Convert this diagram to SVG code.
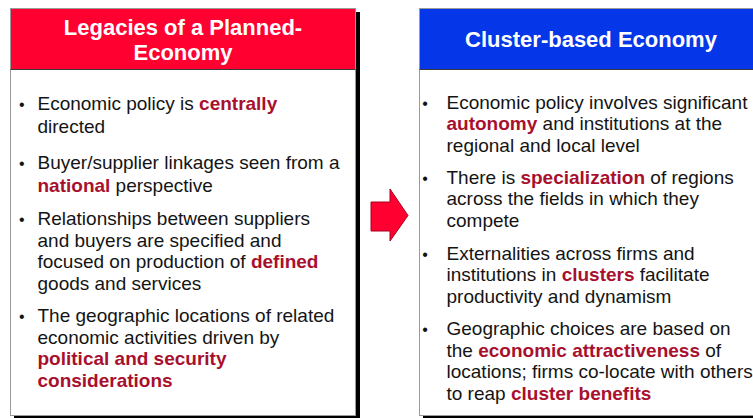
<svg xmlns="http://www.w3.org/2000/svg" width="753" height="418" viewBox="0 0 753 418">
  <style>
    .panel { fill: #ffffff; stroke: #9a9a9a; stroke-width: 1; }
    .shadow { fill: #000000; }
    .hdr-line { stroke: #3a3a3a; stroke-width: 1; }
    .title { font-family: "Liberation Sans", Arial, sans-serif; font-weight: bold; font-size: 22px; fill: #ffffff; text-anchor: middle; }
    .body { font-family: "Liberation Sans", Arial, sans-serif; font-size: 19px; fill: #141414; }
    .em { font-weight: bold; fill: #a8102e; }
    .bullet { font-family: "Liberation Sans", Arial, sans-serif; font-size: 16px; fill: #141414; text-anchor: middle; }
  </style>
  <rect x="0" y="0" width="753" height="418" fill="#ffffff"/>

  <g id="legacies-planned-economy">
    <rect class="shadow" x="14" y="12" width="346" height="408"/>
    <rect class="panel" x="10.5" y="8.5" width="345" height="407"/>
    <rect x="11" y="9" width="344" height="60" fill="#ff0030"/>
    <line class="hdr-line" x1="10.5" y1="69.5" x2="355.5" y2="69.5"/>
    <text class="title" x="183" y="34.5">Legacies of a Planned-</text>
    <text class="title" x="183" y="60">Economy</text>
    <g class="bullet">
      <text x="21.7" y="110">•</text>
      <text x="21.7" y="169">•</text>
      <text x="21.7" y="224.5">•</text>
      <text x="21.7" y="322">•</text>
    </g>
    <g class="body">
      <text x="37.5" y="110">Economic policy is <tspan class="em">centrally</tspan></text>
      <text x="37.5" y="133">directed</text>
      <text x="37.5" y="169">Buyer/supplier linkages seen from a</text>
      <text x="37.5" y="191.5"><tspan class="em">national</tspan> perspective</text>
      <text x="37.5" y="224.5">Relationships between suppliers</text>
      <text x="37.5" y="246.5">and buyers are specified and</text>
      <text x="37.5" y="268">focused on production of <tspan class="em">defined</tspan></text>
      <text x="37.5" y="289.5">goods and services</text>
      <text x="37.5" y="322">The geographic locations of related</text>
      <text x="37.5" y="343.5">economic activities driven by</text>
      <text x="37.5" y="365"><tspan class="em">political and security</tspan></text>
      <text x="37.5" y="386.5"><tspan class="em">considerations</tspan></text>
    </g>
  </g>

  <g id="cluster-based-economy">
    <rect class="shadow" x="423" y="12" width="346" height="408"/>
    <rect class="panel" x="419.5" y="8.5" width="345" height="407"/>
    <rect x="420" y="9" width="344" height="60" fill="#0536e8"/>
    <line class="hdr-line" x1="419.5" y1="69.5" x2="764.5" y2="69.5"/>
    <text class="title" x="591" y="47">Cluster-based Economy</text>
    <g class="bullet">
      <text x="425" y="108.5">•</text>
      <text x="425" y="183.5">•</text>
      <text x="425" y="259.5">•</text>
      <text x="425" y="335">•</text>
    </g>
    <g class="body">
      <text x="446.5" y="108.5">Economic policy involves significant</text>
      <text x="446.5" y="130"><tspan class="em">autonomy</tspan> and institutions at the</text>
      <text x="446.5" y="151.5">regional and local level</text>
      <text x="446.5" y="183.5">There is <tspan class="em">specialization</tspan> of regions</text>
      <text x="446.5" y="205">across the fields in which they</text>
      <text x="446.5" y="226.5">compete</text>
      <text x="446.5" y="259.5">Externalities across firms and</text>
      <text x="446.5" y="281">institutions in <tspan class="em">clusters</tspan> facilitate</text>
      <text x="446.5" y="302.5">productivity and dynamism</text>
      <text x="446.5" y="335">Geographic choices are based on</text>
      <text x="446.5" y="356.5">the <tspan class="em">economic attractiveness</tspan> of</text>
      <text x="446.5" y="378">locations; firms co-locate with others</text>
      <text x="446.5" y="399.5">to reap <tspan class="em">cluster benefits</tspan></text>
    </g>
  </g>

  <g id="connectors">
    <polygon points="371,202 390,202 390,189 408,215.5 390,241 390,231 371,231" fill="#ff0030" stroke="#a80020" stroke-width="1" stroke-linejoin="miter"/>
  </g>
</svg>
